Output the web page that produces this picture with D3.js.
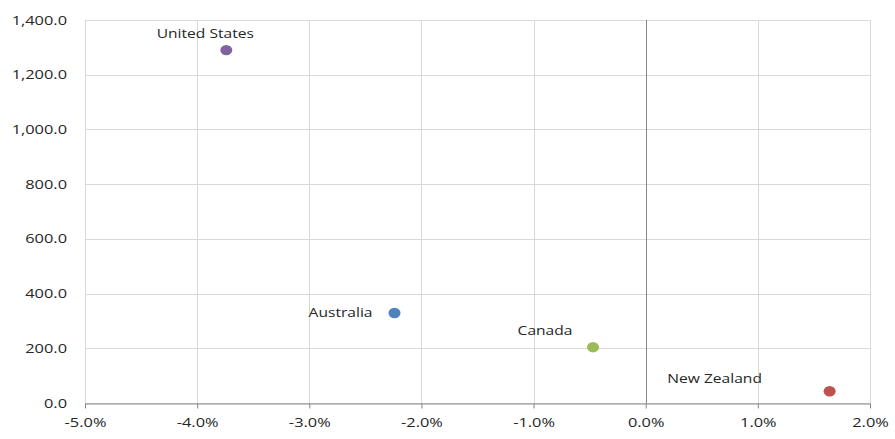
<!DOCTYPE html>
<html>
<head>
<meta charset="utf-8">
<script src="https://cdn.jsdelivr.net/npm/d3@7"></script>
<style>
  body { margin: 0; background: #fff; }
  text { font-family: "Open Sans", "Noto Sans", sans-serif; fill: #262626; }
</style>
</head>
<body>
<div id="container"></div>
<script>
const WIDTH = 895;
const HEIGHT = 439;
const MARGIN = {top: 20, right: 25, bottom: 36, left: 85};
const INNER_WIDTH = WIDTH - MARGIN.left - MARGIN.right;
const INNER_HEIGHT = HEIGHT - MARGIN.top - MARGIN.bottom;
const STRETCH = 1.3; // text in the original is wide

var COUNTRIES = ["United States", "Australia", "Canada", "New Zealand"];
var CHANGE = [-0.0374, -0.0224, -0.0047, 0.0164];
var AMOUNT = [1290, 329, 204, 43];
var COLORS = ["#8064a2", "#4f81bd", "#9bbb59", "#c0504d"];
// label offsets relative to the marker (dx, dy, anchor)
var LABEL_POS = [[-21, -12, "middle"], [-22, 4, "end"], [-48, -12, "middle"], [-115, -8, "middle"]];

var X_TICKS = [-0.05, -0.04, -0.03, -0.02, -0.01, 0, 0.01, 0.02];
var Y_TICKS = [0, 200, 400, 600, 800, 1000, 1200, 1400];

var xScale = d3.scaleLinear().domain([-0.05, 0.02]).range([0, INNER_WIDTH]);
var yScale = d3.scaleLinear().domain([0, 1400]).range([INNER_HEIGHT, 0]);

var svg = d3.select("#container").append("svg")
    .attr("width", WIDTH)
    .attr("height", HEIGHT);

var g = svg.append("g")
    .attr("transform", "translate(" + MARGIN.left + "," + MARGIN.top + ")");

// gridlines
g.selectAll(".hgrid").data(Y_TICKS).enter().append("line")
    .attr("x1", 0).attr("x2", INNER_WIDTH)
    .attr("y1", d => Math.round(yScale(d)) + 0.5)
    .attr("y2", d => Math.round(yScale(d)) + 0.5)
    .attr("stroke", "#d9d9d9");
g.selectAll(".vgrid").data(X_TICKS.filter(d => d !== 0)).enter().append("line")
    .attr("y1", 0).attr("y2", INNER_HEIGHT)
    .attr("x1", d => Math.round(xScale(d)) + 0.5)
    .attr("x2", d => Math.round(xScale(d)) + 0.5)
    .attr("stroke", "#d9d9d9");

// y axis (labels only)
var yAxis = d3.axisLeft(yScale).tickValues(Y_TICKS)
    .tickFormat(d3.format(",.1f")).tickSize(0).tickPadding(18);
g.append("g").call(yAxis)
    .call(a => a.select(".domain").remove())
    .selectAll("text")
    .attr("x", -18 / STRETCH)
    .attr("transform", "scale(" + STRETCH + ",1)")
    .attr("font-size", 12.6).attr("font-family", "Open Sans, sans-serif").attr("fill", "#262626");

// vertical axis at zero
g.append("line")
    .attr("x1", Math.round(xScale(0)) + 0.5).attr("x2", Math.round(xScale(0)) + 0.5)
    .attr("y1", 0).attr("y2", INNER_HEIGHT)
    .attr("stroke", "#868686");

// x axis at bottom
var pct = d3.format(".1%");
var xAxis = d3.axisBottom(xScale).tickValues(X_TICKS)
    .tickFormat(d => pct(d).replace("\u2212", "-")).tickSize(5).tickSizeOuter(0).tickPadding(10);
var xg = g.append("g")
    .attr("transform", "translate(0," + (Math.round(INNER_HEIGHT) + 0.5) + ")")
    .call(xAxis);
xg.select(".domain").attr("stroke", "#868686");
xg.selectAll(".tick line").attr("stroke", "#868686");
xg.selectAll("text")
    .attr("transform", "scale(" + STRETCH + ",1)")
    .attr("font-size", 12.6).attr("font-family", "Open Sans, sans-serif").attr("fill", "#262626");

// points
var points = COUNTRIES.map((c, i) => ({name: c, x: CHANGE[i], y: AMOUNT[i], color: COLORS[i], pos: LABEL_POS[i]}));

g.selectAll(".dot").data(points).enter().append("ellipse")
    .attr("cx", d => xScale(d.x))
    .attr("cy", d => yScale(d.y))
    .attr("rx", 6).attr("ry", 5.2)
    .attr("fill", d => d.color);

g.selectAll(".label").data(points).enter().append("text")
    .attr("transform", d => "translate(" + (xScale(d.x) + d.pos[0]) + "," + (yScale(d.y) + d.pos[1]) + ") scale(" + STRETCH + ",1)")
    .attr("text-anchor", d => d.pos[2])
    .attr("font-size", 12)
    .text(d => d.name);
</script>
</body>
</html>
